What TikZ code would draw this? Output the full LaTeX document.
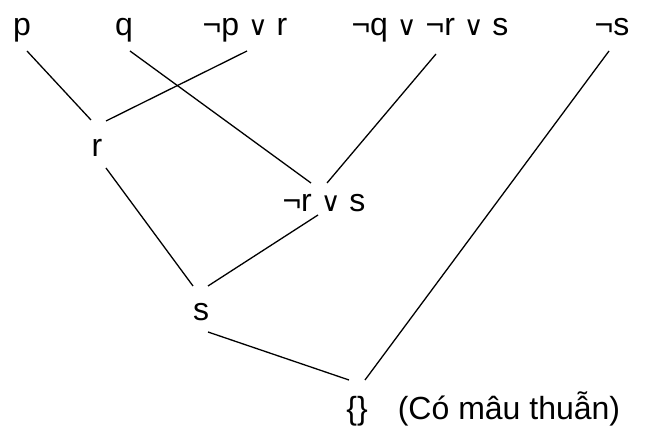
\documentclass[tikz,border=0pt]{standalone}
\usepackage{fontspec}
\setmainfont{Liberation Sans}
\newfontfamily\symfont{DejaVu Sans}
\usetikzlibrary{calc}
\newcommand{\myor}{{\symfont\fontsize{27}{27}\selectfont ∨}}
\newcommand{\myneg}{¬}
\tikzset{
  lbl/.style={inner sep=0pt, anchor=base, font=\fontsize{32}{38}\selectfont},
  edge/.style={line width=1.3pt, black}
}
\begin{document}
\begin{tikzpicture}[x=1pt,y=-1pt]
\useasboundingbox (0,0) rectangle (665,435);
\node[lbl] (p) at (22,36) {p};
\node[lbl] (q) at (124,36) {q};
\node[lbl] (npr) at (245,36) {\myneg p \myor{} r};
\node[lbl] (nqrs) at (430,36) {\myneg q \myor{} \myneg r \myor{} s};
\node[lbl] (ns) at (612,36) {\myneg s};
\node[lbl] (r) at (97,157) {r};
\node[lbl] (nrs) at (324,212) {\myneg r \myor{} s};
\node[lbl] (s) at (201,321) {s};
\node[lbl] (e) at (357,420) {\{\}};
\node[lbl] (note) at (509,420) {(Có mâu thuẫn)};
\draw[edge] ($(p.base)+(5,15)$) -- ($(r.base)+(-6,-37)$);
\draw[edge] ($(npr.base)+(2,15)$) -- ($(r.base)+(9,-36)$);
\draw[edge] ($(q.base)+(6,15)$) -- ($(nrs.base)+(-13,-29)$);
\draw[edge] ($(nqrs.base)+(6,18)$) -- ($(nrs.base)+(3,-29)$);
\draw[edge] ($(r.base)+(9,11)$) -- ($(s.base)+(-8,-35)$);
\draw[edge] ($(nrs.base)+(-6,3)$) -- ($(s.base)+(7,-35)$);
\draw[edge] ($(s.base)+(7,11)$) -- ($(e.base)+(-8,-40)$);
\draw[edge] ($(ns.base)+(-3,15)$) -- ($(e.base)+(8,-40)$);
\end{tikzpicture}
\end{document}
